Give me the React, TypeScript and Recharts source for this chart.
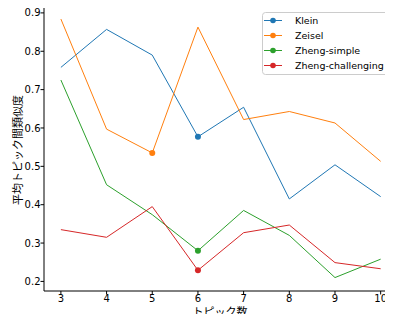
import React from 'react';
import { LineChart, Line, XAxis, YAxis, Legend } from 'recharts';

const topics = [3, 4, 5, 6, 7, 8, 9, 10];
const klein = [0.758, 0.857, 0.79, 0.577, 0.654, 0.415, 0.504, 0.421];
const zeisel = [0.884, 0.597, 0.535, 0.863, 0.622, 0.643, 0.613, 0.513];
const zhengSimple = [0.725, 0.452, 0.374, 0.28, 0.385, 0.32, 0.21, 0.258];
const zhengChallenging = [0.335, 0.315, 0.395, 0.229, 0.327, 0.347, 0.249, 0.233];
const yTicks = [0.2, 0.3, 0.4, 0.5, 0.6, 0.7, 0.8, 0.9];

const series = [
  { key: 'Klein', values: klein, color: '#1f77b4', mark: 3 },
  { key: 'Zeisel', values: zeisel, color: '#ff7f0e', mark: 2 },
  { key: 'Zheng-simple', values: zhengSimple, color: '#2ca02c', mark: 3 },
  { key: 'Zheng-challenging', values: zhengChallenging, color: '#d62728', mark: 3 },
];

const data = topics.map((t, i) => {
  const row: any = { t };
  series.forEach((s) => (row[s.key] = s.values[i]));
  return row;
});

const FONT = '"DejaVu Sans", sans-serif';
const JFONT = '"Noto Sans CJK JP", "DejaVu Sans", sans-serif';

const LegendBox = () => (
  <svg width={130} height={64} style={{ display: 'block' }}>
    <rect x={0.5} y={0.5} width={128} height={62} rx={3} ry={3} fill="rgba(255,255,255,0.8)" stroke="#cccccc" strokeWidth={1} />
    {series.map((s, i) => (
      <g key={s.key}>
        <line x1={2} y1={8.5 + i * 15} x2={20} y2={8.5 + i * 15} stroke={s.color} strokeWidth={1} />
        <circle cx={11} cy={8.5 + i * 15} r={2.8} fill={s.color} />
        <text x={33} y={12 + i * 15} fontFamily={FONT} fontSize={9.5} fill="#000">
          {s.key}
        </text>
      </g>
    ))}
  </svg>
);

export default function App() {
  return (
    <div style={{ position: 'relative', width: 393, height: 322, margin: -8, overflow: 'hidden', background: '#fff' }}>
      <LineChart width={393} height={322} data={data} margin={{ top: 6, right: 0, bottom: 0, left: 0 }}>
        <XAxis
          dataKey="t"
          type="number"
          domain={[2.63, 10.27]}
          ticks={topics}
          allowDataOverflow
          height={31}
          tickSize={3.5}
          tickMargin={0}
          stroke="#000"
          tick={{ fill: '#000', fontSize: 10, fontFamily: FONT }}
          axisLine={{ stroke: '#000', strokeWidth: 1 }}
          tickLine={{ stroke: '#000' }}
        />
        <XAxis
          xAxisId="top"
          orientation="top"
          dataKey="t"
          type="number"
          domain={[2.63, 10.27]}
          height={0}
          tick={false}
          tickLine={false}
          axisLine={{ stroke: '#000', strokeWidth: 1 }}
        />
        <YAxis
          type="number"
          domain={[0.175, 0.918]}
          ticks={yTicks}
          allowDataOverflow
          width={44}
          tickSize={3.5}
          tickMargin={0}
          tickFormatter={(v: number) => v.toFixed(1)}
          tick={{ fill: '#000', fontSize: 10, fontFamily: FONT }}
          axisLine={{ stroke: '#000', strokeWidth: 1 }}
          tickLine={{ stroke: '#000' }}
        />
        {series.map((s) => (
          <Line
            key={s.key}
            dataKey={s.key}
            type="linear"
            stroke={s.color}
            strokeWidth={1}
            isAnimationActive={false}
            dot={(p: any) =>
              p.index === s.mark ? (
                <circle key={`d-${s.key}-${p.index}`} cx={p.cx} cy={p.cy} r={3} fill={s.color} stroke="none" />
              ) : (
                <g key={`d-${s.key}-${p.index}`} />
              )
            }
            activeDot={false}
          />
        ))}
        <Legend
          layout="vertical"
          align="center"
          verticalAlign="middle"
          content={() => <LegendBox />}
          wrapperStyle={{ top: 12, left: 262, width: 130, height: 64, margin: 0, padding: 0 }}
        />
      </LineChart>
      <div
        style={{
          position: 'absolute',
          left: 220,
          top: 311,
          transform: 'translate(-50%, -50%)',
          fontFamily: JFONT,
          fontSize: 11,
          lineHeight: '11px',
          whiteSpace: 'nowrap',
          color: '#000',
        }}
      >
        トピック数
      </div>
      <div
        style={{
          position: 'absolute',
          left: 17,
          top: 150,
          transform: 'translate(-50%, -50%) rotate(-90deg)',
          fontFamily: JFONT,
          fontSize: 11,
          lineHeight: '11px',
          whiteSpace: 'nowrap',
          color: '#000',
        }}
      >
        平均トピック間類似度
      </div>
    </div>
  );
}
